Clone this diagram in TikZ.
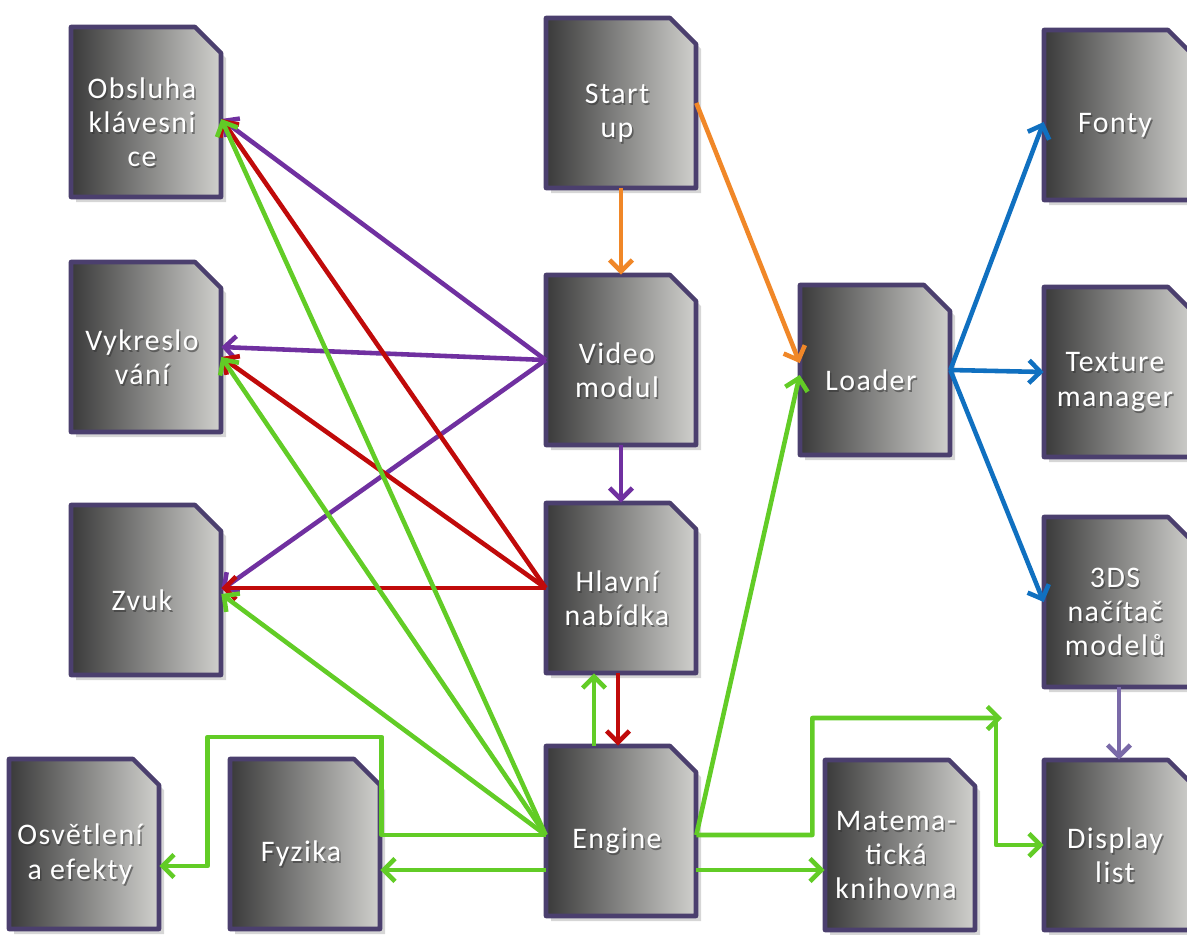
\documentclass[tikz,border=0pt]{standalone}
\usepackage{fontspec}
\setmainfont{Carlito}
\newfontfamily\labelfont[LetterSpace=5]{Carlito}
\usetikzlibrary{arrows.meta,calc}

\definecolor{docdark}{RGB}{58,58,58}
\definecolor{doclight}{RGB}{208,208,205}
\definecolor{docborder}{RGB}{75,63,110}
\definecolor{corange}{RGB}{240,135,40}
\definecolor{cpurple}{RGB}{112,48,160}
\definecolor{cred}{RGB}{192,10,10}
\definecolor{cgreen}{RGB}{98,204,38}
\definecolor{cblue}{RGB}{16,112,192}
\definecolor{clavender}{RGB}{122,106,168}

\tikzset{
  boxcore/.style={rectangle, minimum width=3cm, minimum height=3.4cm, inner sep=0pt},
  docedge/.style={draw=docborder, line width=2.6pt, line join=round},
  docshadow/.style={fill=black!45, opacity=.35},
  boxtext/.style={text=white, align=center, inner sep=0pt,
    font=\labelfont\fontsize{17}{19.5}\selectfont},
  boxtextsh/.style={boxtext, text=black!80, opacity=.55},
  conn/.style={line width=2.6pt, line join=round,
    -{Straight Barb[length=6.5pt,width=13pt]}},
  oconn/.style={conn, draw=corange},
  pconn/.style={conn, draw=cpurple},
  rconn/.style={conn, draw=cred},
  gconn/.style={conn, draw=cgreen},
  bconn/.style={conn, draw=cblue},
  lconn/.style={conn, draw=clavender},
}

% document-style block with a snipped top-right corner:
% #1 name, #2 x, #3 y (centre, y grows downwards), #4 label
\newcommand\docbox[4]{%
  \fill[docshadow] ({#2-75+5},{#3+85+5}) -- ({#2-75+5},{#3-85+5})
    -- ({#2+75-26+5},{#3-85+5}) -- ({#2+75+5},{#3-85+26+5})
    -- ({#2+75+5},{#3+85+5}) -- cycle;
  \shade[left color=docdark, right color=doclight]
    ({#2-75},{#3+85}) -- ({#2-75},{#3-85}) -- ({#2+75-26},{#3-85})
    -- ({#2+75},{#3-85+26}) -- ({#2+75},{#3+85}) -- cycle;
  \draw[docedge]
    ({#2-75},{#3+85}) -- ({#2-75},{#3-85}) -- ({#2+75-26},{#3-85})
    -- ({#2+75},{#3-85+26}) -- ({#2+75},{#3+85}) -- cycle;
  \node[boxcore] (#1) at (#2,#3) {};
  \node[boxtextsh] (#1-s) at ({#2-4+1.5},{#3+10+2}) {#4};
  \node[boxtext] (#1-t) at ({#2-4},{#3+10}) {#4};
}

\begin{document}
\begin{tikzpicture}[x=0.02cm, y=-0.02cm]
  \useasboundingbox (0,0) rectangle (1187,934);
  \fill[white] (0,0) rectangle (1187,934);
  \clip (0,0) rectangle (1187,934);

  % blocks
  \docbox{obs}{146}{112}{Obsluha\\klávesni\\ce}
  \docbox{vyk}{146}{347}{Vykreslo\\vání}
  \docbox{zvuk}{146}{590}{Zvuk}
  \docbox{osv}{84}{844}{Osvětlení\\a efekty}
  \docbox{fyz}{305}{844}{Fyzika}
  \docbox{start}{621}{103}{Start\\up}
  \docbox{video}{621}{360}{Video\\modul}
  \docbox{hlav}{621}{588}{Hlavní\\nabídka}
  \docbox{eng}{621}{831}{Engine}
  \docbox{loader}{875}{370}{Loader}
  \docbox{mat}{900}{845}{Matema-\\tická\\knihovna}
  \docbox{fonty}{1119}{115}{Fonty}
  \docbox{tex}{1119}{372}{Texture\\manager}
  \docbox{tds}{1119}{602}{3DS\\načítač\\modelů}
  \docbox{disp}{1119}{845}{Display\\list}

  % start-up
  \draw[oconn] (start.south) -- (video.north);
  \draw[oconn] (start.east) -- ([yshift=0.14cm]loader.west);

  % video module
  \draw[pconn] (video.west) -- ([yshift=-0.14cm]obs.east);
  \draw[pconn] (video.west) -- (vyk.east);
  \draw[pconn] (video.west) -- (zvuk.east);
  \draw[pconn] (video.south) -- (hlav.north);

  % main menu
  \draw[rconn] (hlav.west) -- ([yshift=-0.14cm]obs.east);
  \draw[rconn] (hlav.west) -- ([yshift=-0.2cm]vyk.east);
  \draw[rconn] (hlav.west) -- (hlav.west -| zvuk.east);
  \draw[rconn] ([xshift=-0.06cm]hlav.south) -- ([xshift=-0.06cm]eng.north);

  % engine
  \coordinate (engW) at ([yshift=-0.08cm]eng.west);
  \coordinate (engE) at ([yshift=-0.08cm]eng.east);
  \draw[gconn] (engW) -- ([yshift=-0.14cm]obs.east);
  \draw[gconn] (engW) -- ([yshift=-0.2cm]vyk.east);
  \draw[gconn] (engW) -- ([yshift=-0.08cm]zvuk.east);
  \draw[gconn] (engW) -- ++(-164,0) -- ++(0,-98) -- ++(-174,0)
    |- ([yshift=-0.44cm]osv.east);
  \draw[gconn] ([yshift=-0.78cm]eng.west) -- ([yshift=-0.78cm]eng.west -| fyz.east);
  \draw[gconn] ([xshift=-0.54cm]eng.north) -- ([xshift=-0.54cm]hlav.south);
  \draw[gconn] (engE) -- ([yshift=-0.1cm]loader.west);
  \coordinate (dlin) at (1002,718);
  \draw[gconn] (engE) -- ++(116,0) -- ++(0,-117) -- (dlin);
  \draw[gconn] ([xshift=-0.12cm]dlin) |- (disp.west);
  \draw[gconn] ([yshift=-0.78cm]eng.east) -- ([yshift=-0.78cm]eng.east -| mat.west);

  % loader
  \draw[bconn] (loader.east) -- ([yshift=-0.14cm]fonty.west);
  \draw[bconn] (loader.east) -- (tex.west);
  \draw[bconn] (loader.east) -- (tds.west);
  \draw[lconn] (tds.south) -- (disp.north);
\end{tikzpicture}
\end{document}
